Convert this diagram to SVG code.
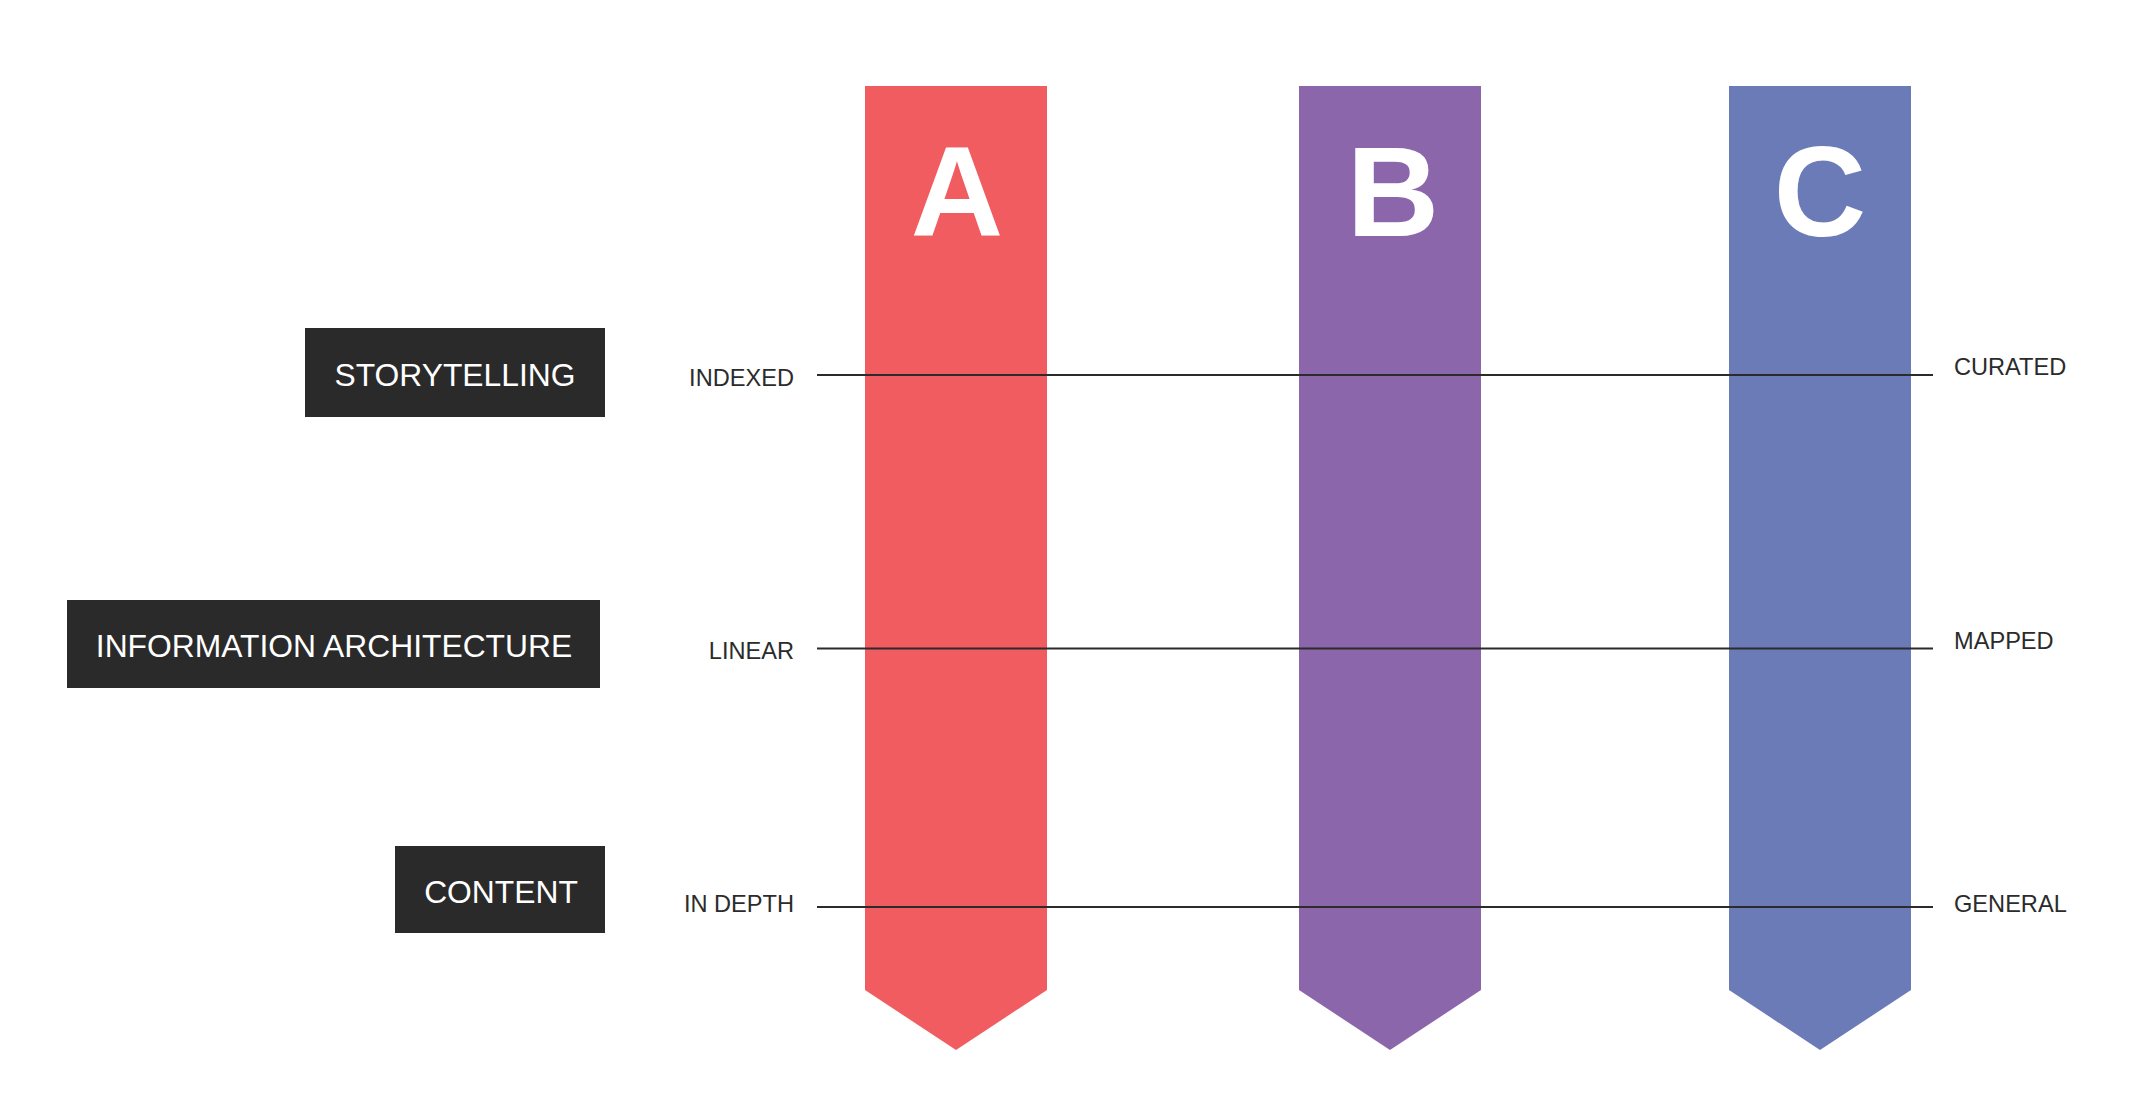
<svg xmlns="http://www.w3.org/2000/svg" width="2132" height="1116" viewBox="0 0 2132 1116">
<style>
.box{fill:#2a2a2a}
.boxtxt{font-family:"Liberation Sans",Arial,sans-serif;font-size:31.8px;fill:#ffffff;text-anchor:middle}
.lbl{font-family:"Liberation Sans",Arial,sans-serif;font-size:23.6px;fill:#2b2b2b}
.lblL{text-anchor:end}
.letter{font-family:"Liberation Sans",Arial,sans-serif;font-size:128px;font-weight:bold;fill:#ffffff;text-anchor:middle}
.conn{stroke:#2b2b2b;stroke-width:1.8;fill:none}
</style>
<rect width="2132" height="1116" fill="#ffffff"/>
<g id="col-a">
<polygon points="865,86 1047,86 1047,990 956,1050 865,990" fill="#f05c60"/>
<text class="letter" x="957" y="236">A</text>
</g>
<g id="col-b">
<polygon points="1299,86 1481,86 1481,990 1390,1050 1299,990" fill="#8b66aa"/>
<text class="letter" x="1393" y="236">B</text>
</g>
<g id="col-c">
<polygon points="1729,86 1911,86 1911,990 1820,1050 1729,990" fill="#6b7bb8"/>
<text class="letter" x="1820" y="236">C</text>
</g>
<g id="connectors">
<line class="conn" x1="817" y1="375" x2="1933" y2="375"/>
<line class="conn" x1="817" y1="648.5" x2="1933" y2="648.5"/>
<line class="conn" x1="817" y1="907" x2="1933" y2="907"/>
</g>
<g id="storytelling">
<rect class="box" x="305" y="328" width="300" height="89"/>
<text class="boxtxt" x="455" y="385.5">STORYTELLING</text>
</g>
<g id="information-architecture">
<rect class="box" x="67" y="600" width="533" height="88"/>
<text class="boxtxt" x="334" y="656.5">INFORMATION ARCHITECTURE</text>
</g>
<g id="content">
<rect class="box" x="395" y="846" width="210" height="87"/>
<text class="boxtxt" x="501" y="903">CONTENT</text>
</g>
<g id="left-labels">
<text class="lbl lblL" x="794" y="385.5">INDEXED</text>
<text class="lbl lblL" x="794" y="659">LINEAR</text>
<text class="lbl lblL" x="794" y="912">IN DEPTH</text>
</g>
<g id="right-labels">
<text class="lbl" x="1954" y="375">CURATED</text>
<text class="lbl" x="1954" y="649">MAPPED</text>
<text class="lbl" x="1954" y="911.5">GENERAL</text>
</g>
</svg>
